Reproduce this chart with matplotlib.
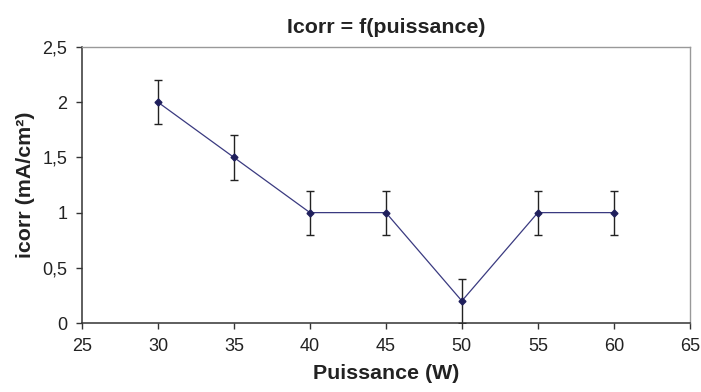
import matplotlib
matplotlib.use("Agg")
import matplotlib.pyplot as plt
from matplotlib.ticker import FuncFormatter

plt.rcParams['font.family'] = ['Liberation Sans', 'DejaVu Sans']

# data
puissance = [30, 35, 40, 45, 50, 55, 60]
icorr = [2, 1.5, 1, 1, 0.2, 1, 1]
erreur = [0.2, 0.2, 0.2, 0.2, 0.2, 0.2, 0.2]
x_ticks = [25, 30, 35, 40, 45, 50, 55, 60, 65]
y_ticks = [0, 0.5, 1, 1.5, 2, 2.5]

fig = plt.figure(figsize=(7.01, 3.92), dpi=100)
ax = fig.add_axes([0.117, 0.176, 0.867, 0.704])

ax.errorbar(puissance, icorr, yerr=erreur, fmt='none', ecolor='#222222',
            elinewidth=1, capsize=3, capthick=1, zorder=2)
ax.plot(puissance, icorr, color='#3a3a80', linewidth=0.9, marker='D',
        markersize=3.5, markerfacecolor='#1f1f5c', markeredgecolor='#1f1f5c', zorder=3)

ax.set_xlim(25, 65)
ax.set_ylim(0, 2.5)
ax.set_xticks(x_ticks)
ax.set_yticks(y_ticks)
ax.yaxis.set_major_formatter(FuncFormatter(lambda v, p: ('%g' % v).replace('.', ',')))
ax.tick_params(direction='out', length=4.5, width=1, colors='#333333', labelsize=13,
               labelcolor='#222222', pad=6)

for side in ['left', 'bottom']:
    ax.spines[side].set_color('#333333')
    ax.spines[side].set_linewidth(1.1)
for side in ['top', 'right']:
    ax.spines[side].set_color('#999999')
    ax.spines[side].set_linewidth(1)

ax.set_title("Icorr = f(puissance)", fontsize=15.4, fontweight='bold', color='#222222', pad=10)
ax.set_xlabel("Puissance (W)", fontsize=15.4, fontweight='bold', color='#222222', labelpad=7)
ax.set_ylabel("icorr (mA/cm²)", fontsize=15.4, fontweight='bold', color='#222222', labelpad=5)

fig.savefig("out.png", dpi=100)
